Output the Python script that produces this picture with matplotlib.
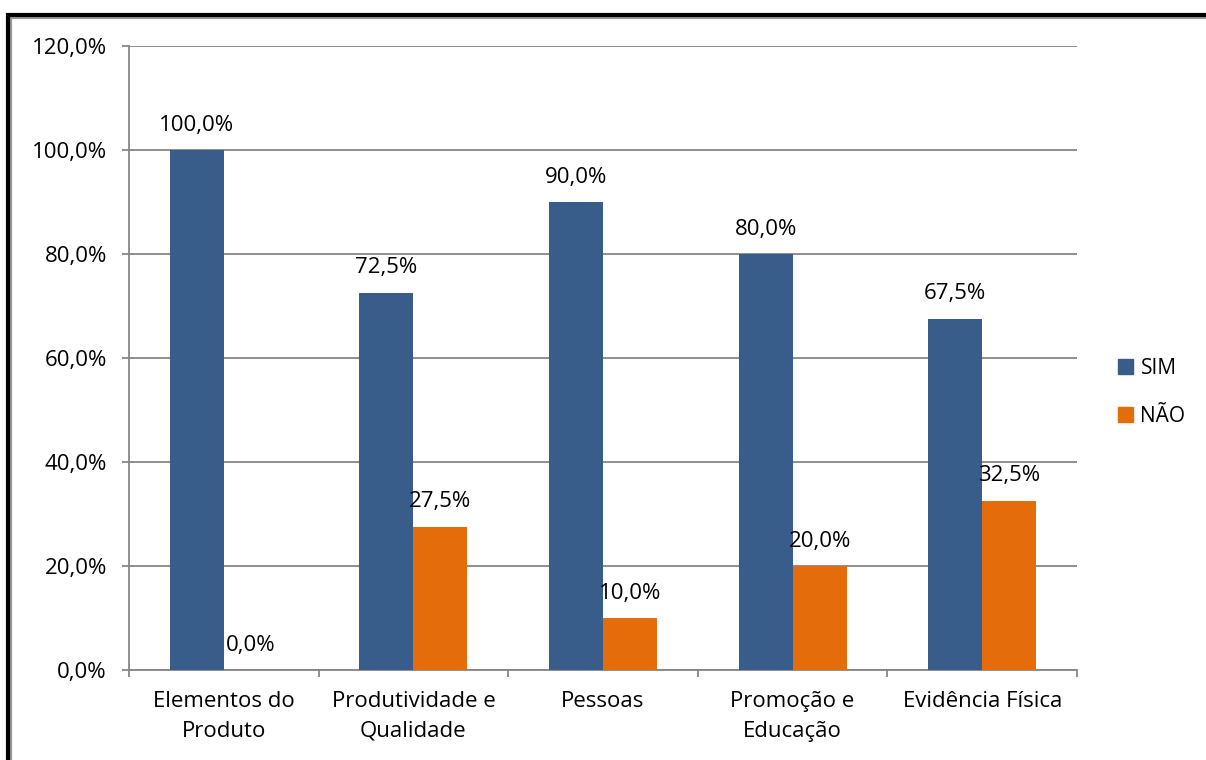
import numpy as np
import matplotlib.pyplot as plt
from matplotlib.patches import Rectangle, Patch

# categorias e percentuais
categorias = ["Elementos do\nProduto", "Produtividade e\nQualidade", "Pessoas",
              "Promoção e\nEducação", "Evidência Física"]
sim = [100.0, 72.5, 90.0, 80.0, 67.5]
nao = [0.0, 27.5, 10.0, 20.0, 32.5]
yticks = [0, 20, 40, 60, 80, 100, 120]

cor_sim = "#385D8A"
cor_nao = "#E46C0A"
cinza = "#868686"
fs = 16

plt.rcParams['font.family'] = ['Open Sans', 'DejaVu Sans']

fig = plt.figure(figsize=(12.06, 7.6), dpi=100)
ax = fig.add_axes([129 / 1206, 1 - 670 / 760, (1077 - 129) / 1206, (670 - 46) / 760])

x = np.arange(len(categorias))
w = 54 / 189.6
b1 = ax.bar(x - w / 2, sim, w, color=cor_sim, label="SIM", zorder=3)
b2 = ax.bar(x + w / 2, nao, w, color=cor_nao, label="NÃO", zorder=3)

for barras in (b1, b2):
    for r in barras:
        v = r.get_height()
        ax.annotate(f"{v:.1f}%".replace(".", ","),
                    (r.get_x() + r.get_width() / 2, v),
                    xytext=(0, 18), textcoords="offset points",
                    ha="center", va="center", fontsize=fs, zorder=4)

ax.set_xlim(-0.5, len(categorias) - 0.5)
ax.set_ylim(0, 120)
ax.set_yticks(yticks)
ax.set_yticklabels([f"{t:.1f}%".replace(".", ",") for t in yticks], fontsize=fs)
ax.yaxis.grid(True, color=cinza, linewidth=1.3, zorder=0)

ax.set_xticks(x)
ax.set_xticklabels(categorias, fontsize=fs, linespacing=1.55)
ax.tick_params(axis="x", length=0, pad=15)
ax.set_xticks(np.arange(len(categorias) + 1) - 0.5, minor=True)
ax.tick_params(axis="x", which="minor", length=5, color=cinza, width=1.3)
ax.tick_params(axis="y", length=5, color=cinza, width=1.3, pad=11)

for s in ["top", "right"]:
    ax.spines[s].set_visible(False)
for s in ["left", "bottom"]:
    ax.spines[s].set_color(cinza)
    ax.spines[s].set_linewidth(1.3)

ax.legend(handles=[Patch(color=cor_sim, label="SIM"), Patch(color=cor_nao, label="NÃO")],
          loc="center left", bbox_to_anchor=(1.023, 0.445), frameon=False,
          fontsize=15, handlelength=0.75, handleheight=0.75, handletextpad=0.35,
          labelspacing=1.3)

# moldura do gráfico com sombra
fig.patches.append(Rectangle((9.5 / 1206, -0.1), 1.2, 1 - 16.5 / 760 + 0.1,
                             transform=fig.transFigure, fill=False,
                             edgecolor="#999999", linewidth=3, zorder=9))
fig.patches.append(Rectangle((8 / 1206, -0.1), 1.2, 1 - 14.5 / 760 + 0.1,
                             transform=fig.transFigure, fill=False,
                             edgecolor="black", linewidth=3, zorder=10))

fig.savefig("out.png", dpi=100)
